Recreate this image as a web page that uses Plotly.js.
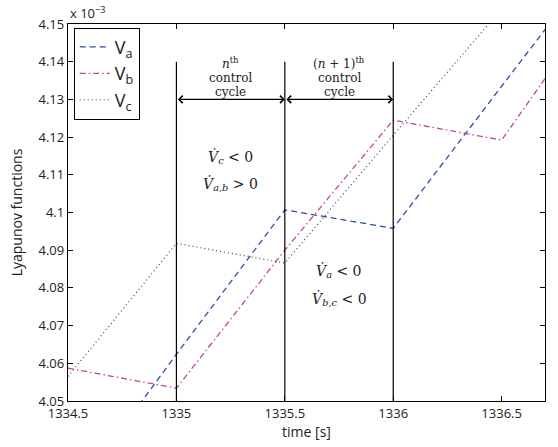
<!DOCTYPE html>
<html>
<head>
<meta charset="utf-8">
<script src="https://cdn.plot.ly/plotly-3.0.1.min.js"></script>
<style>
html,body{margin:0;padding:0;background:#fff;}
#chart{width:558px;height:447px;}
</style>
</head>
<body>
<div id="chart"></div>
<script>
// Time samples (s)
var time = [1334.5, 1335, 1335.5, 1336, 1336.5, 1337];
// Lyapunov functions (x 10^-3)
var Va = [4.0233, 4.0624, 4.1007, 4.0958, 4.1335, 4.171];
var Vb = [4.0587, 4.0534, 4.0900, 4.1245, 4.1192, 4.160];
var Vc = [4.0565, 4.0918, 4.0866, 4.1205, 4.154, 4.149];
var seriesNames = ['V<sub>a</sub>', 'V<sub>b</sub>', 'V<sub>c</sub>'];
// Control cycle boundaries (s)
var cycleBounds = [1335, 1335.5, 1336];
var cycleLineTop = 4.14;
var arrowLevel = 4.13;
var xTicks = [1334.5, 1335, 1335.5, 1336, 1336.5];
var xTickText = ['1334.5', '1335', '1335.5', '1336', '1336.5'];
var yTicks = [4.05, 4.06, 4.07, 4.08, 4.09, 4.1, 4.11, 4.12, 4.13, 4.14, 4.15];
var yTickText = ['4.05', '4.06', '4.07', '4.08', '4.09', '4.1', '4.11', '4.12', '4.13', '4.14', '4.15'];

var traces = [
  {x: time, y: Va, name: seriesNames[0], mode: 'lines',
   line: {color: '#2c4ea8', width: 1.3, dash: '6px,4px'}},
  {x: time, y: Vb, name: seriesNames[1], mode: 'lines',
   line: {color: '#c2449f', width: 1.3, dash: '6px,3px,1.5px,3px'}},
  {x: time, y: Vc, name: seriesNames[2], mode: 'lines',
   line: {color: '#444444', width: 1.2, dash: '1px,3px'}}
];

var shapes = cycleBounds.map(function (t) {
  return {type: 'line', xref: 'x', yref: 'y', x0: t, x1: t, y0: 4.05, y1: cycleLineTop,
          line: {color: '#000', width: 1.2}};
});

var serif = 'DejaVu Serif, Liberation Serif, serif';
var annotations = [];
for (var i = 0; i < cycleBounds.length - 1; i++) {
  annotations.push({x: cycleBounds[i + 1], y: arrowLevel, ax: cycleBounds[i], ay: arrowLevel,
    xref: 'x', yref: 'y', axref: 'x', ayref: 'y', text: '', showarrow: true,
    arrowhead: 4, arrowside: 'end+start', arrowsize: 1.3, arrowwidth: 1.1, arrowcolor: '#000',
    standoff: 0, startstandoff: 0});
}
var txtFont = {family: serif, size: 12, color: '#222'};
var mathFont = {family: serif, size: 14, color: '#222'};
annotations.push(
  {xref: 'x', yref: 'paper', x: 1335.25, y: 1 - (53 - 24) / 377, text: '<i>n</i><sup>th</sup>', showarrow: false, font: txtFont},
  {xref: 'x', yref: 'paper', x: 1335.25, y: 1 - (69 - 24) / 377, text: 'control', showarrow: false, font: txtFont},
  {xref: 'x', yref: 'paper', x: 1335.25, y: 1 - (83 - 24) / 377, text: 'cycle', showarrow: false, font: txtFont},
  {xref: 'x', yref: 'paper', x: 1335.75, y: 1 - (53 - 24) / 377, text: '(<i>n</i> + 1)<sup>th</sup>', showarrow: false, font: txtFont},
  {xref: 'x', yref: 'paper', x: 1335.75, y: 1 - (69 - 24) / 377, text: 'control', showarrow: false, font: txtFont},
  {xref: 'x', yref: 'paper', x: 1335.75, y: 1 - (83 - 24) / 377, text: 'cycle', showarrow: false, font: txtFont},
  {xref: 'x', yref: 'paper', x: 1335.25, y: 1 - (157 - 24) / 377, text: '<i>V̇</i><sub><i>c</i></sub> &lt; 0', showarrow: false, font: mathFont},
  {xref: 'x', yref: 'paper', x: 1335.25, y: 1 - (184 - 24) / 377, text: '<i>V̇</i><sub><i>a,b</i></sub> &gt; 0', showarrow: false, font: mathFont},
  {xref: 'x', yref: 'paper', x: 1335.75, y: 1 - (282 - 24) / 377, text: '<i>V̇</i><sub><i>a</i></sub> &lt; 0', showarrow: false, font: mathFont},
  {xref: 'x', yref: 'paper', x: 1335.75, y: 1 - (310 - 24) / 377, text: '<i>V̇</i><sub><i>b,c</i></sub> &lt; 0', showarrow: false, font: mathFont},
  {xref: 'paper', yref: 'paper', x: 0, y: 1, xanchor: 'left', yanchor: 'bottom', yshift: 0,
   text: 'x 10<sup>−3</sup>', showarrow: false, font: {family: 'Open Sans, sans-serif', size: 13, color: '#222'}}
);

var axisCommon = {
  showline: true, linecolor: '#000', linewidth: 1.2, mirror: 'ticks',
  ticks: 'inside', ticklen: 5, tickcolor: '#000', tickwidth: 1,
  showgrid: false, zeroline: false,
  tickfont: {family: 'Open Sans, sans-serif', size: 13, color: '#222'}
};

var layout = {
  width: 558, height: 447,
  margin: {l: 68, r: 13, t: 24, b: 46},
  paper_bgcolor: '#fff', plot_bgcolor: '#fff',
  showlegend: true,
  legend: {x: 0.012, y: 0.99, xanchor: 'left', yanchor: 'top', bgcolor: '#fff',
           bordercolor: '#000', borderwidth: 1,
           font: {family: 'Open Sans, sans-serif', size: 18, color: '#222'}},
  xaxis: Object.assign({}, axisCommon, {
    range: [1334.5, 1336.7], tickvals: xTicks, ticktext: xTickText,
    title: {text: 'time [s]', font: {family: 'Open Sans, sans-serif', size: 14, color: '#222'}, standoff: 6}
  }),
  yaxis: Object.assign({}, axisCommon, {
    range: [4.05, 4.15], tickvals: yTicks, ticktext: yTickText,
    title: {text: 'Lyapunov functions', font: {family: 'Open Sans, sans-serif', size: 14, color: '#222'}, standoff: 12}
  }),
  shapes: shapes,
  annotations: annotations
};

Plotly.newPlot('chart', traces, layout, {displayModeBar: false, staticPlot: true});
</script>
</body>
</html>
